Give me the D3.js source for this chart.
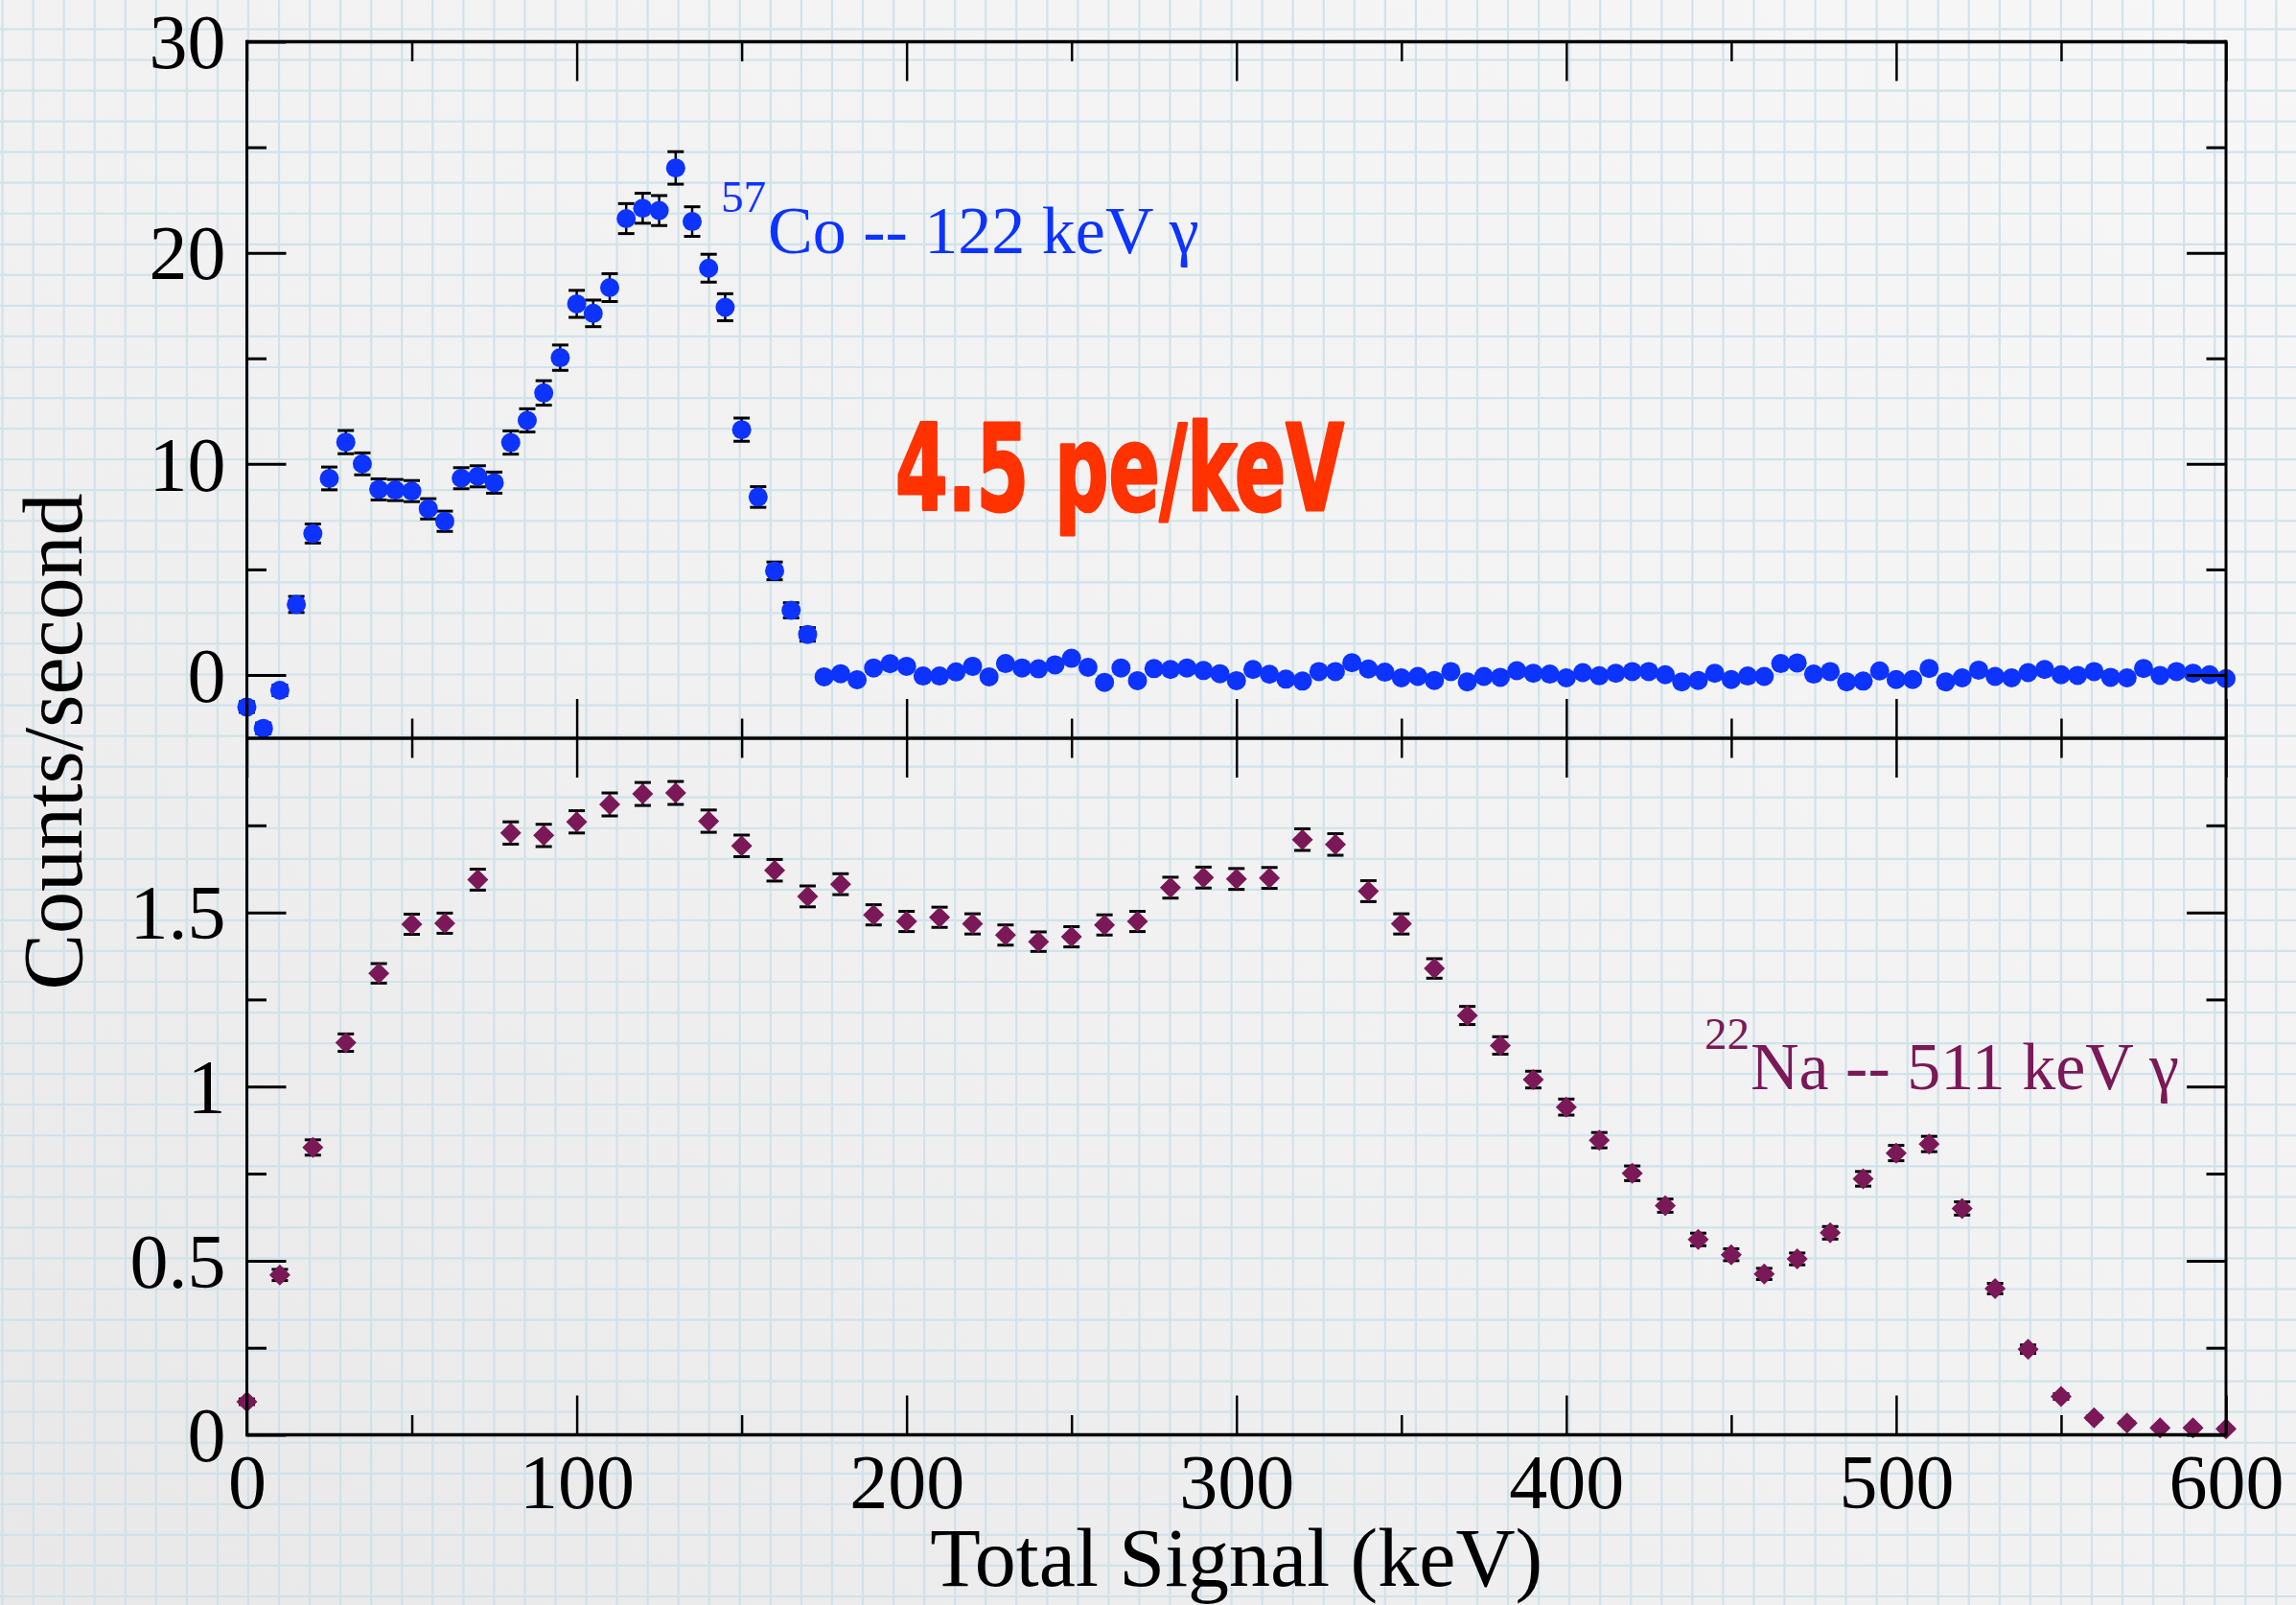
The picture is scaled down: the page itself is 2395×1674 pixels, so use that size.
<!DOCTYPE html>
<html>
<head>
<meta charset="utf-8">
<script src="https://cdn.jsdelivr.net/npm/d3@7"></script>
<style>
  html, body { margin: 0; padding: 0; background: #f2f2f2; }
  svg { display: block; }
</style>
</head>
<body>
<svg id="chart" width="2395" height="1674"></svg>
<script>
// ---- axis ticks ----
const energyTicks = [0, 100, 200, 300, 400, 500, 600];
const energyMinorTicks = [50, 150, 250, 350, 450, 550];
const coTicks = [0, 10, 20, 30];
const coMinorTicks = [5, 15, 25];
const naTicks = [0, 0.5, 1, 1.5];
const naMinorTicks = [0.25, 0.75, 1.25, 1.75];

// ---- 57Co spectrum: 5 keV bins, counts/second ----
const coEnergy = d3.range(0, 601, 5);
const coRate = [
  -1.52, -2.53, -0.73, 3.34, 6.70, 9.31, 11.03, 10.00, 8.79, 8.76,
  8.71, 7.87, 7.28, 9.32, 9.41, 9.11, 11.01, 12.06, 13.36, 15.03,
  17.58, 17.13, 18.35, 21.62, 22.11, 22.00, 24.02, 21.48, 19.27, 17.42,
  11.62, 8.43, 4.93, 3.06, 1.92,
  -0.09, 0.06, -0.23, 0.33, 0.53, 0.41, -0.05, -0.05, 0.14, 0.41,
  -0.09, 0.54, 0.33, 0.29, 0.48, 0.79, 0.36, -0.35, 0.33, -0.27,
  0.30, 0.26, 0.33, 0.21, 0.06, -0.27, 0.26, 0.03, -0.20,
  -0.29, 0.16, 0.16, 0.58, 0.28, 0.13, -0.14, -0.07, -0.26, 0.16,
  -0.33, -0.07, -0.11, 0.20, 0.08, 0.04, -0.14, 0.11, -0.04, 0.08,
  0.16, 0.16, 0.01, -0.33, -0.26, 0.08, -0.22,
  -0.05, -0.07, 0.54, 0.57, 0.04, 0.16, -0.33, -0.29, 0.19, -0.22,
  -0.22, 0.31, -0.33, -0.14, 0.23, -0.07, -0.14, 0.11, 0.26, 0.01,
  -0.02, 0.16, -0.11, -0.14, 0.31, -0.02, 0.16, 0.08, 0.01, -0.17
];
// uncertainties of the peak region (0-170 keV); beyond that the bars sit inside the markers
const coError = [
  0.25, 0.25, 0.25, 0.38, 0.45, 0.54, 0.55, 0.52, 0.50, 0.50,
  0.50, 0.48, 0.48, 0.50, 0.50, 0.50, 0.55, 0.55, 0.58, 0.60,
  0.64, 0.63, 0.66, 0.71, 0.71, 0.71, 0.77, 0.70, 0.66, 0.64,
  0.55, 0.49, 0.42, 0.36, 0.32
];

// ---- 22Na spectrum: 10 keV bins, counts/second ----
const naEnergy = d3.range(0, 601, 10);
const naRate = [
  0.095, 0.459, 0.825, 1.126, 1.325, 1.466, 1.469, 1.594, 1.728, 1.721,
  1.760, 1.810, 1.840, 1.843, 1.762, 1.691, 1.621, 1.546, 1.581, 1.493,
  1.474, 1.486, 1.467, 1.435, 1.416, 1.430, 1.464, 1.474, 1.571, 1.600,
  1.596, 1.599, 1.709, 1.695, 1.561, 1.467, 1.339, 1.204, 1.118, 1.020,
  0.941, 0.846, 0.751, 0.658, 0.561, 0.517, 0.462, 0.505, 0.580, 0.735,
  0.809, 0.835, 0.650, 0.420, 0.246, 0.110, 0.049, 0.034, 0.020, 0.020,
  0.017
];
const naError = [
  0.008, 0.016, 0.022, 0.025, 0.028, 0.029, 0.029, 0.030, 0.032, 0.032,
  0.032, 0.033, 0.033, 0.033, 0.032, 0.031, 0.031, 0.030, 0.030, 0.029,
  0.029, 0.029, 0.029, 0.029, 0.028, 0.029, 0.029, 0.029, 0.030, 0.030,
  0.030, 0.030, 0.031, 0.031, 0.030, 0.029, 0.028, 0.026, 0.025, 0.024,
  0.023, 0.022, 0.021, 0.019, 0.018, 0.017, 0.016, 0.017, 0.018, 0.021,
  0.022, 0.022, 0.019, 0.015, 0.012, 0.008, 0.005, 0.004, 0.003, 0.003,
  0.003
];

const coColor = "#0c33ff";
const naColor = "#7a1858";
const serif = "'Liberation Serif', 'Times New Roman', Times, serif";

// ---- layout ----
const W = 2395, H = 1674;
const plotLeft = 257.5, plotRight = 2322, plotTop = 43.5, plotMid = 770, plotBottom = 1496.5;
const majorLen = 41, minorLen = 20.5;

const svg = d3.select("#chart");

// paper background
const defs = svg.append("defs");
const grad = defs.append("linearGradient").attr("id", "paper")
  .attr("x1", "1").attr("y1", "0").attr("x2", "0").attr("y2", "1");
grad.append("stop").attr("offset", "0%").attr("stop-color", "#f7f7f7");
grad.append("stop").attr("offset", "55%").attr("stop-color", "#f1f1f1");
grad.append("stop").attr("offset", "100%").attr("stop-color", "#e8e8e8");
svg.append("rect").attr("width", W).attr("height", H).attr("fill", "url(#paper)");

// graph-paper ruling
const cell = 32.05;
const paper = svg.append("g").attr("stroke", "#cde2ea").attr("stroke-width", 2.2).attr("opacity", 0.9);
paper.selectAll("line.v").data(d3.range(2.6, W, cell)).join("line")
  .attr("class", "v").attr("x1", d => d).attr("x2", d => d).attr("y1", 0).attr("y2", H);
paper.selectAll("line.h").data(d3.range(-1.6, H, cell)).join("line")
  .attr("class", "h").attr("y1", d => d).attr("y2", d => d).attr("x1", 0).attr("x2", W);

// ---- scales ----
const x = d3.scaleLinear().domain([0, 600]).range([plotLeft, plotRight]);
const yCo = d3.scaleLinear().domain([-3, 30]).range([plotMid, plotTop]);
const yNa = d3.scaleLinear().domain([0, 2]).range([plotBottom, plotMid]);

// ---- error bars ----
function errorBars(g, xs, ys, errs, yScale) {
  const pts = errs.map((e, i) => ({ e: xs[i], v: ys[i], err: e }));
  const eg = g.append("g").attr("stroke", "#000");
  const items = eg.selectAll("g").data(pts).join("g");
  items.append("line")
    .attr("x1", d => x(d.e)).attr("x2", d => x(d.e))
    .attr("y1", d => yScale(d.v - d.err)).attr("y2", d => yScale(d.v + d.err))
    .attr("stroke-width", 2.5);
  [-1, 1].forEach(s => {
    items.append("line")
      .attr("x1", d => x(d.e) - 8.5).attr("x2", d => x(d.e) + 8.5)
      .attr("y1", d => yScale(d.v + s * d.err)).attr("y2", d => yScale(d.v + s * d.err))
      .attr("stroke-width", 3);
  });
}

const marks = svg.append("g");
errorBars(marks, coEnergy, coRate, coError, yCo);
errorBars(marks, naEnergy, naRate, naError, yNa);

// 57Co points (circles)
marks.append("g").selectAll("circle").data(coRate).join("circle")
  .attr("cx", (d, i) => x(coEnergy[i])).attr("cy", d => yCo(d))
  .attr("r", 10).attr("fill", coColor);

// 22Na points (diamonds)
const diamond = "M0,-11L11,0L0,11L-11,0Z";
marks.append("g").selectAll("path").data(naRate).join("path")
  .attr("transform", (d, i) => `translate(${x(naEnergy[i])},${yNa(d)})`)
  .attr("d", diamond).attr("fill", naColor);

// ---- axes ----
function styleAxis(g, width) {
  g.select(".domain").remove();
  g.selectAll(".tick line").attr("stroke", "#000").attr("stroke-width", width);
  g.selectAll("text").attr("font-family", serif).attr("font-size", 80).attr("fill", "#000");
}
function addAxis(axis, tx, ty, width) {
  const g = svg.append("g").attr("transform", `translate(${tx},${ty})`).call(axis);
  styleAxis(g, width);
  return g;
}

// bottom axis with labels
const xb = addAxis(d3.axisBottom(x).tickValues(energyTicks).tickSize(-majorLen).tickSizeOuter(0), 0, plotBottom, 2.5);
xb.selectAll("text").attr("y", 76).attr("dy", 0);
addAxis(d3.axisBottom(x).tickValues(energyMinorTicks).tickSize(-minorLen).tickFormat(""), 0, plotBottom, 2.5);
// top axis
addAxis(d3.axisTop(x).tickValues(energyTicks).tickSize(-majorLen).tickFormat(""), 0, plotTop, 2.5);
addAxis(d3.axisTop(x).tickValues(energyMinorTicks).tickSize(-minorLen).tickFormat(""), 0, plotTop, 2.5);
// shared middle axis: ticks into both panels
addAxis(d3.axisBottom(x).tickValues(energyTicks).tickSize(-majorLen).tickFormat(""), 0, plotMid, 2.5);
addAxis(d3.axisBottom(x).tickValues(energyMinorTicks).tickSize(-minorLen).tickFormat(""), 0, plotMid, 2.5);
addAxis(d3.axisTop(x).tickValues(energyTicks).tickSize(-majorLen).tickFormat(""), 0, plotMid, 2.5);
addAxis(d3.axisTop(x).tickValues(energyMinorTicks).tickSize(-minorLen).tickFormat(""), 0, plotMid, 2.5);

// left axes with labels
const yl1 = addAxis(d3.axisLeft(yCo).tickValues(coTicks).tickSize(-majorLen).tickFormat(d => String(d)), plotLeft, 0, 3);
const yl2 = addAxis(d3.axisLeft(yNa).tickValues(naTicks).tickSize(-majorLen).tickFormat(d => String(d)), plotLeft, 0, 3);
[yl1, yl2].forEach(g => g.selectAll("text").attr("x", -22).attr("dy", "0.34em"));
addAxis(d3.axisLeft(yCo).tickValues(coMinorTicks).tickSize(-minorLen).tickFormat(""), plotLeft, 0, 3);
addAxis(d3.axisLeft(yNa).tickValues(naMinorTicks).tickSize(-minorLen).tickFormat(""), plotLeft, 0, 3);
// right axes
addAxis(d3.axisRight(yCo).tickValues(coTicks).tickSize(-majorLen).tickFormat(""), plotRight, 0, 3);
addAxis(d3.axisRight(yNa).tickValues(naTicks).tickSize(-majorLen).tickFormat(""), plotRight, 0, 3);
addAxis(d3.axisRight(yCo).tickValues(coMinorTicks).tickSize(-minorLen).tickFormat(""), plotRight, 0, 3);
addAxis(d3.axisRight(yNa).tickValues(naMinorTicks).tickSize(-minorLen).tickFormat(""), plotRight, 0, 3);

// panel frames
const frame = svg.append("g").attr("stroke", "#000").attr("fill", "none");
[plotTop, plotMid, plotBottom].forEach(yv => {
  frame.append("line").attr("x1", plotLeft).attr("x2", plotRight).attr("y1", yv).attr("y2", yv).attr("stroke-width", 3.5);
});
[plotLeft, plotRight].forEach(xv => {
  frame.append("line").attr("x1", xv).attr("x2", xv).attr("y1", plotTop - 1.75).attr("y2", plotBottom + 1.75).attr("stroke-width", 3);
});

// ---- axis titles ----
svg.append("text")
  .attr("x", (plotLeft + plotRight) / 2).attr("y", 1654)
  .attr("text-anchor", "middle")
  .attr("font-family", serif).attr("font-size", 86).attr("fill", "#000")
  .text("Total Signal (keV)");
svg.append("text")
  .attr("transform", "translate(85,773.5) rotate(-90)")
  .attr("text-anchor", "middle")
  .attr("font-family", serif).attr("font-size", 88).attr("fill", "#000")
  .text("Counts/second");

// ---- source labels ----
function sourceLabel(mass, rest, xMass, yMass, xRest, yRest, color) {
  const g = svg.append("g").attr("font-family", serif).attr("fill", color);
  g.append("text").attr("x", xMass).attr("y", yMass).attr("font-size", 47).text(mass);
  g.append("text").attr("x", xRest).attr("y", yRest).attr("font-size", 70).text(rest);
}
sourceLabel("57", "Co -- 122 keV \u03b3", 752, 221, 801, 264, coColor);
sourceLabel("22", "Na -- 511 keV \u03b3", 1778, 1094, 1826, 1135.5, naColor);

// light-yield note
svg.append("text")
  .attr("x", 934).attr("y", 532)
  .attr("font-family", "'Liberation Sans Narrow', 'DejaVu Sans Condensed', 'DejaVu Sans', sans-serif")
  .attr("font-weight", "bold").attr("font-size", 124)
  .attr("textLength", 468).attr("lengthAdjust", "spacingAndGlyphs")
  .attr("fill", "#ff3200").attr("stroke", "#ff3200").attr("stroke-width", 3).attr("stroke-linejoin", "round")
  .text("4.5 pe/keV");
</script>
</body>
</html>
